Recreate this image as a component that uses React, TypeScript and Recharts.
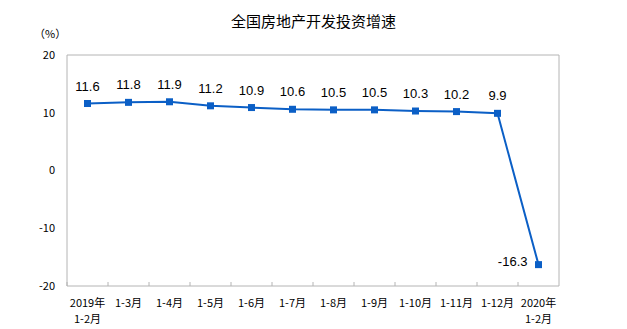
import { LineChart, Line, XAxis, YAxis, LabelList } from 'recharts';

const categories = [
  '2019年\n1-2月', '1-3月', '1-4月', '1-5月', '1-6月', '1-7月',
  '1-8月', '1-9月', '1-10月', '1-11月', '1-12月', '2020年\n1-2月',
];
const growth = [11.6, 11.8, 11.9, 11.2, 10.9, 10.6, 10.5, 10.5, 10.3, 10.2, 9.9, -16.3];
const yTicks = [-20, -10, 0, 10, 20];

const data = categories.map((cat, i) => ({ cat, value: growth[i] }));

const W = 627;
const H = 329;
const M = { top: 54, right: 67, bottom: 0, left: 0 };
const Y_AXIS_W = 67;
const X_AXIS_H = 43;
const BAND = (W - M.left - M.right - 1 - Y_AXIS_W) / categories.length;
const BLUE = '#0B5FC6';
const GRID = '#B4B4B4';
const CJK = '"Noto Sans CJK SC", "Liberation Serif", serif';

const XTick = (props: any) => {
  const { x, y, payload } = props;
  const lines = String(payload.value).split('\n');
  const bx = x - BAND / 2;
  return (
    <g>
      <line x1={bx} y1={y} x2={bx} y2={y - 4} stroke={GRID} />
      {lines.map((t, i) => (
        <text key={i} x={x} y={y + 21 + i * 16} textAnchor="middle" fontSize={11} fill="#000" fontFamily={CJK}>
          {t}
        </text>
      ))}
    </g>
  );
};

const Dot = (props: any) => {
  const { cx, cy } = props;
  if (cx == null || cy == null) return null;
  return <rect x={cx - 3.5} y={cy - 3.5} width={7} height={7} fill={BLUE} />;
};

const ValueLabel = (props: any) => {
  const { x, y, value, index } = props;
  const last = index === categories.length - 1;
  return (
    <text
      x={last ? x - 11 : x}
      y={last ? y + 1 : y - 13}
      textAnchor={last ? 'end' : 'middle'}
      fontSize={13}
      fill="#000"
      fontFamily='"Liberation Sans", Arial, sans-serif'
    >
      {value}
    </text>
  );
};

export default function App() {
  const pad = { left: BAND / 2, right: BAND / 2 };
  return (
    <div style={{ width: W, height: H, position: 'relative', background: '#fff' }}>
      <style>{`body{margin:0}`}</style>
      <div
        style={{
          position: 'absolute', top: 10, left: 0, width: W, textAlign: 'center',
          fontSize: 15, fontFamily: CJK, color: '#000',
        }}
      >
        全国房地产开发投资增速
      </div>
      <div style={{ position: 'absolute', top: 25, left: 34, fontSize: 11, fontFamily: CJK, color: '#000' }}>
        （%）
      </div>
      <LineChart width={W} height={H} data={data} margin={M}>
        <XAxis
          dataKey="cat"
          interval={0}
          height={X_AXIS_H}
          padding={pad}
          axisLine={{ stroke: GRID }}
          tickLine={false}
          tickSize={0}
          tickMargin={0}
          tick={<XTick />}
        />
        <XAxis
          xAxisId="top"
          orientation="top"
          dataKey="cat"
          height={1}
          padding={pad}
          axisLine={{ stroke: GRID }}
          tickLine={false}
          tick={false}
        />
        <YAxis
          width={Y_AXIS_W}
          domain={[-20, 20]}
          ticks={yTicks}
          axisLine={{ stroke: GRID }}
          tickLine={false}
          tickSize={8}
          tickMargin={4}
          tick={{ fontSize: 11, fill: '#000', fontFamily: CJK }}
        />
        <YAxis
          yAxisId="right"
          orientation="right"
          width={1}
          domain={[-20, 20]}
          ticks={yTicks}
          axisLine={{ stroke: GRID }}
          tickLine={false}
          tick={false}
        />
        <Line
          type="linear"
          dataKey="value"
          stroke={BLUE}
          strokeWidth={2}
          dot={<Dot />}
          activeDot={false}
          isAnimationActive={false}
        >
          <LabelList dataKey="value" content={<ValueLabel />} />
        </Line>
      </LineChart>
    </div>
  );
}
